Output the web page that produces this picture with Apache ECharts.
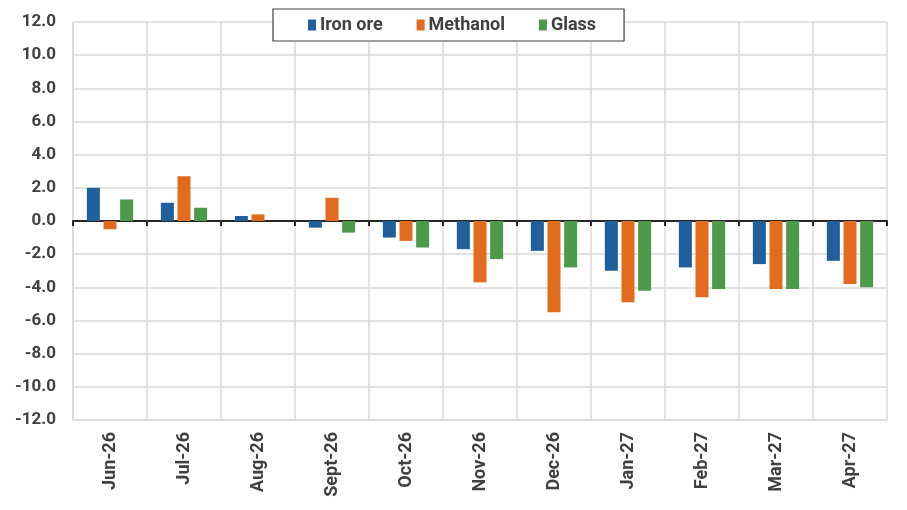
<!DOCTYPE html>
<html>
<head>
<meta charset="utf-8">
<script src="https://cdn.jsdelivr.net/npm/echarts@6/dist/echarts.min.js"></script>
<style>
    html, body { margin: 0; padding: 0; background: #ffffff; }
    #chart { width: 907px; height: 510px; }
</style>
</head>
<body>
<div id="chart"></div>
<script>
var months = ['Jun-26', 'Jul-26', 'Aug-26', 'Sept-26', 'Oct-26', 'Nov-26', 'Dec-26', 'Jan-27', 'Feb-27', 'Mar-27', 'Apr-27'];
var ironOre = [2.0, 1.1, 0.3, -0.4, -1.0, -1.7, -1.8, -3.0, -2.8, -2.6, -2.4];
var methanol = [-0.5, 2.7, 0.4, 1.4, -1.2, -3.7, -5.5, -4.9, -4.6, -4.1, -3.8];
var glass = [1.3, 0.8, 0.0, -0.7, -1.6, -2.3, -2.8, -4.2, -4.1, -4.1, -4.0];

var chart = echarts.init(document.getElementById('chart'));

function barSeries(name, data, color) {
    return {
        name: name,
        type: 'bar',
        data: data,
        barWidth: 13,
        barGap: '28%',
        itemStyle: { color: color },
        xAxisIndex: 0
    };
}

var option = {
    animation: false,
    textStyle: { fontFamily: 'Roboto' },
    legend: {
        top: 9,
        left: 273,
        padding: [7, 28, 7, 35],
        itemWidth: 8,
        itemHeight: 11,
        itemGap: 34,
        icon: 'rect',
        borderColor: '#404040',
        borderWidth: 1.2,
        backgroundColor: '#ffffff',
        textStyle: { fontSize: 18, fontWeight: 'bold', color: '#404040', fontFamily: 'Roboto', padding: [0, 0, 0, -1] },
        data: ['Iron ore', 'Methanol', 'Glass']
    },
    grid: { left: 73, right: 20, top: 22, bottom: 90, containLabel: false },
    xAxis: [
        {
            type: 'category',
            data: months,
            position: 'bottom',
            axisLine: { onZero: false, show: true, lineStyle: { color: '#d9d9d9', width: 1.5 } },
            axisTick: { show: false },
            splitLine: { show: true, lineStyle: { color: '#d9d9d9', width: 1.5 } },
            axisLabel: {
                rotate: 90,
                margin: 12,
                fontSize: 18,
                fontWeight: 'bold',
                color: '#404040',
                fontFamily: 'Roboto'
            }
        },
        {
            type: 'category',
            data: months,
            position: 'bottom',
            axisLine: { onZero: true, show: true, lineStyle: { color: '#262626', width: 2 } },
            axisTick: { show: true, length: 5, lineStyle: { color: '#262626', width: 2 } },
            axisLabel: { show: false },
            splitLine: { show: false }
        }
    ],
    yAxis: {
        type: 'value',
        min: -12,
        max: 12,
        interval: 2,
        axisLine: { show: true, lineStyle: { color: '#d9d9d9', width: 1.5 } },
        axisTick: { show: false },
        splitLine: { show: true, lineStyle: { color: '#d9d9d9', width: 1.5 } },
        axisLabel: {
            margin: 17,
            fontSize: 17,
            fontWeight: 'bold',
            color: '#404040',
            fontFamily: 'Roboto',
            formatter: function (v) { return v.toFixed(1); }
        }
    },
    series: [
        barSeries('Iron ore', ironOre, '#1f5f9c'),
        barSeries('Methanol', methanol, '#e26b1e'),
        barSeries('Glass', glass, '#4c9a4a')
    ]
};

chart.setOption(option);
</script>
</body>
</html>
